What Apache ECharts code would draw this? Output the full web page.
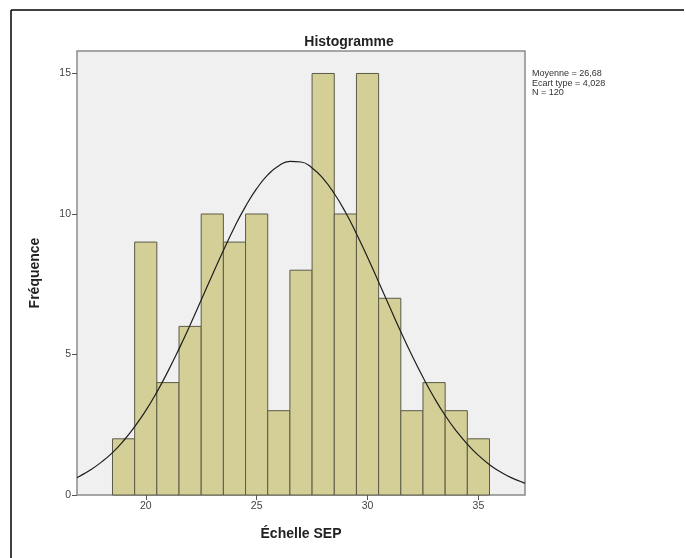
<!DOCTYPE html>
<html>
<head>
<meta charset="utf-8">
<script src="https://cdn.jsdelivr.net/npm/echarts@6/dist/echarts.min.js"></script>
<style>
html,body{margin:0;padding:0;background:#fff;}
#chart{width:686px;height:558px;}
</style>
</head>
<body>
<div id="chart"></div>
<script>
// Histogram bins (centres) and counts
var binCenters = [19, 20, 21, 22, 23, 24, 25, 26, 27, 28, 29, 30, 31, 32, 33, 34, 35];
var binCounts  = [2, 9, 4, 6, 10, 9, 10, 3, 8, 15, 10, 15, 7, 3, 4, 3, 2];
// Normal curve points
var curveX = [16.9, 17, 17.5, 18, 18.5, 19, 19.5, 20, 20.5, 21, 21.5, 22, 22.5, 23, 23.5, 24, 24.5, 25, 25.5, 26, 26.5, 27, 27.5, 28, 28.5, 29, 29.5, 30, 30.5, 31, 31.5, 32, 32.5, 33, 33.5, 34, 34.5, 35, 35.5, 36, 36.5, 37, 37.1];
var curveY = [0.62, 0.66, 0.89, 1.17, 1.51, 1.93, 2.43, 3.00, 3.66, 4.40, 5.20, 6.05, 6.94, 7.83, 8.70, 9.53, 10.27, 10.90, 11.39, 11.72, 11.87, 11.85, 11.64, 11.26, 10.73, 10.07, 9.30, 8.46, 7.58, 6.69, 5.81, 4.97, 4.19, 3.47, 2.83, 2.28, 1.81, 1.41, 1.08, 0.82, 0.61, 0.45, 0.42];
var xTicks = [20, 25, 30, 35];
var yTicks = [0, 5, 10, 15];
var statsLines = ['Moyenne = 26,68', 'Ecart type = 4,028', 'N = 120'];
var binWidth = 1;

var barData = binCenters.map(function (c, i) { return [c, binCounts[i]]; });
var curveData = curveX.map(function (x, i) { return [x, curveY[i]]; });

var chart = echarts.init(document.getElementById('chart'), null, {renderer: 'canvas'});
var font = 'Liberation Sans, Arial, sans-serif';

chart.setOption({
  animation: false,
  backgroundColor: '#ffffff',
  title: {
    text: 'Histogramme',
    left: 344, top: 30,
    textAlign: 'center',
    textStyle: {fontFamily: font, fontSize: 14, fontWeight: 'bold', color: '#222'}
  },
  grid: {
    left: 77, top: 51, right: 161, bottom: 63,
    show: true, backgroundColor: '#f0f0f0', borderColor: '#8a8a8a', borderWidth: 1.5,
    containLabel: false
  },
  xAxis: {
    type: 'value', min: 16.9, max: 37.1,
    name: 'Échelle SEP', nameLocation: 'middle', nameGap: 32,
    nameTextStyle: {fontFamily: font, fontSize: 14, fontWeight: 'bold', color: '#222'},
    axisLine: {show: false},
    axisTick: {show: true, length: 5, lineStyle: {color: '#555', width: 1}, customValues: xTicks},
    axisLabel: {fontFamily: font, fontSize: 10.5, color: '#444', margin: 6, customValues: xTicks},
    splitLine: {show: false}
  },
  yAxis: {
    type: 'value', min: 0, max: 15.8,
    name: 'Fréquence', nameLocation: 'middle', nameGap: 35, nameRotate: 90,
    nameTextStyle: {fontFamily: font, fontSize: 14, fontWeight: 'bold', color: '#222'},
    axisLine: {show: false},
    axisTick: {show: true, length: 5, lineStyle: {color: '#555', width: 1}, customValues: yTicks},
    axisLabel: {fontFamily: font, fontSize: 10.5, color: '#444', margin: 6, customValues: yTicks},
    splitLine: {show: false}
  },
  series: [
    {
      type: 'custom',
      data: barData,
      renderItem: function (params, api) {
        var c = api.value(0), v = api.value(1);
        var p0 = api.coord([c - binWidth / 2, 0]);
        var p1 = api.coord([c + binWidth / 2, v]);
        return {
          type: 'rect',
          shape: {x: p0[0], y: p1[1], width: p1[0] - p0[0], height: p0[1] - p1[1]},
          style: {fill: '#d3cf97', stroke: '#5c5a48', lineWidth: 1}
        };
      },
      encode: {x: 0, y: 1},
      z: 2
    },
    {
      type: 'line',
      data: curveData,
      showSymbol: false,
      smooth: true,
      clip: true,
      lineStyle: {color: '#1e1e1e', width: 1.2},
      z: 3
    }
  ],
  graphic: [
    {type: 'line', shape: {x1: 11, y1: 10, x2: 684, y2: 10}, style: {stroke: '#000', lineWidth: 1.5}},
    {type: 'line', shape: {x1: 11, y1: 10, x2: 11, y2: 558}, style: {stroke: '#000', lineWidth: 1.5}},
    {type: 'text', left: 532, top: 69, style: {text: statsLines.join('\n'), fontFamily: font, fontSize: 9, lineHeight: 9.5, fill: '#333'}}
  ]
});
</script>
</body>
</html>
